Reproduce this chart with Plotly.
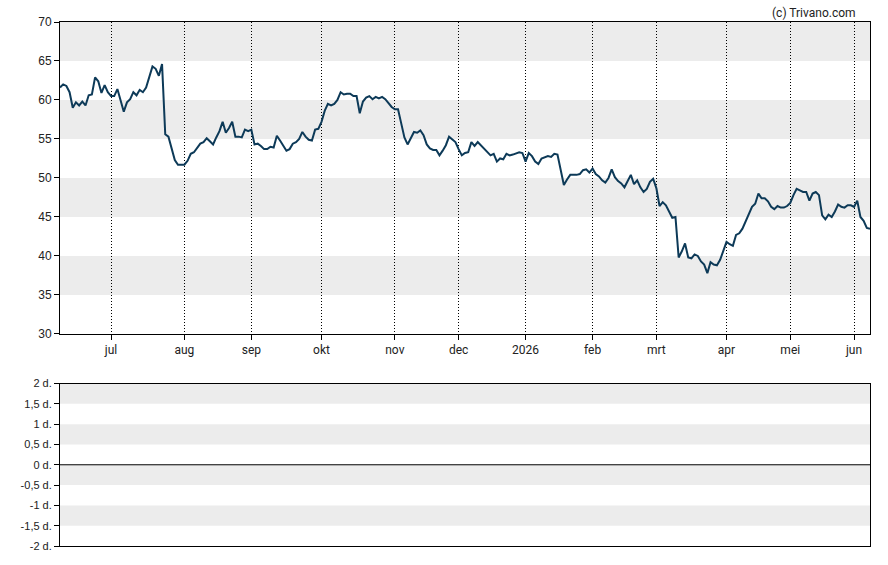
import pandas as pd
import plotly.graph_objects as go

# Daily closing prices per month (trading days)
jun25 = [61.6, 62.0, 61.8, 61.0, 59.0, 59.7, 59.3, 59.8, 59.3, 60.6, 60.7, 62.9, 62.4, 60.9, 61.9, 61.0]
jul25 = [60.5, 60.5, 61.4, 60.0, 58.5, 59.7, 60.1, 61.0, 60.6, 61.3, 61.0, 61.6, 62.9, 64.3, 64.0, 63.1,
         64.6, 55.6, 55.3, 53.8, 52.3, 51.7, 51.7]
aug25 = [51.7, 52.2, 53.1, 53.3, 53.8, 54.4, 54.6, 55.1, 54.7, 54.3, 55.2, 56.0, 57.2, 55.8, 56.4, 57.2,
         55.3, 55.3, 55.2, 56.2, 56.0]
sep25 = [56.2, 54.3, 54.4, 54.1, 53.7, 53.7, 54.0, 53.9, 55.4, 54.8, 54.1, 53.5, 53.7, 54.4, 54.6, 55.0,
         55.9, 55.3, 54.9, 54.8, 56.2, 56.3]
okt25 = [57.2, 58.6, 59.5, 59.3, 59.5, 60.0, 61.0, 60.7, 60.8, 60.8, 60.5, 60.5, 58.3, 59.8, 60.3, 60.5,
         60.1, 60.4, 60.2, 60.4, 60.1, 59.6, 59.1]
nov25 = [58.8, 58.8, 57.0, 55.2, 54.3, 55.2, 55.9, 55.8, 56.1, 55.5, 54.3, 53.8, 53.6, 53.6, 52.9, 53.5,
         54.2, 55.3, 55.0, 54.6]
dec25 = [53.7, 52.9, 53.2, 53.3, 54.6, 54.1, 54.6, 54.2, 53.8, 53.4, 52.9, 53.1, 52.1, 52.5, 52.4, 53.1,
         52.9, 53.0, 53.2, 53.3, 53.2]
jan26 = [52.1, 53.2, 52.8, 52.1, 51.8, 52.5, 52.7, 52.8, 52.7, 53.1, 53.0, 50.8, 49.1, 49.8, 50.4, 50.4,
         50.4, 50.5, 51.0, 51.1, 50.7]
feb26 = [51.2, 50.5, 50.2, 49.7, 49.4, 50.0, 51.1, 50.1, 49.6, 49.3, 48.8, 49.7, 50.4, 49.2, 49.7, 48.8,
         48.2, 48.6, 49.5, 49.9]
mrt26 = [48.7, 46.4, 46.9, 46.5, 45.7, 44.9, 45.0, 39.8, 40.6, 41.6, 39.8, 39.7, 40.2, 40.0, 39.3, 38.9,
         37.8, 39.2, 38.9, 38.8, 39.5, 40.6]
apr26 = [41.8, 41.5, 41.3, 42.7, 42.9, 43.5, 44.4, 45.4, 46.3, 46.7, 48.0, 47.4, 47.4, 47.0, 46.3, 46.0,
         46.4, 46.2, 46.2, 46.4]
mei26 = [46.8, 47.8, 48.6, 48.4, 48.2, 48.2, 47.1, 48.0, 48.2, 47.8, 45.2, 44.7, 45.3, 45.0, 45.7, 46.6,
         46.3, 46.2, 46.5, 46.5]
jun26 = [46.3, 47.1, 45.0, 44.5, 43.6, 43.5]

month_values = [jun25, jul25, aug25, sep25, okt25, nov25, dec25, jan26, feb26, mrt26, apr26, mei26, jun26]
month_labels = ["jul", "aug", "sep", "okt", "nov", "dec", "2026", "feb", "mrt", "apr", "mei", "jun"]

holidays = ["2025-12-25", "2025-12-26", "2026-01-01", "2026-04-03", "2026-04-06", "2026-05-01"]
dates = pd.bdate_range("2025-06-09", "2026-06-08")
dates = dates[~dates.isin(pd.to_datetime(holidays))]

prices = [v for m in month_values for v in m]
n = min(len(prices), len(dates))
prices = prices[:n]
dates = dates[:n]
idx = list(range(n))

# month-start tick positions (trading-day index)
tickvals = []
prev = None
for i, d in enumerate(dates):
    key = (d.year, d.month)
    if prev is not None and key != prev:
        tickvals.append(i)
    prev = key
tickvals = tickvals[:len(month_labels)]

main_bands = [(65, 70), (55, 60), (45, 50), (35, 40)]
sub_bands = [(1.5, 2), (0.5, 1), (-0.5, 0), (-1.5, -1)]
sub_ticks = [2, 1.5, 1, 0.5, 0, -0.5, -1, -1.5, -2]
sub_labels = ["2 d.", "1,5 d.", "1 d.", "0,5 d.", "0 d.", "-0,5 d.", "-1 d.", "-1,5 d.", "-2 d."]

fig = go.Figure()
fig.add_trace(go.Scatter(x=idx, y=prices, mode="lines",
                         line=dict(color="#0d3a58", width=2), hoverinfo="skip",
                         xaxis="x", yaxis="y"))
fig.add_trace(go.Scatter(x=[0, n - 1], y=[None, None], mode="lines",
                         xaxis="x2", yaxis="y2", hoverinfo="skip"))

shapes = []
for lo, hi in main_bands:
    shapes.append(dict(type="rect", xref="x domain", yref="y", x0=0, x1=1, y0=lo, y1=hi,
                       fillcolor="#ececec", line=dict(width=0), layer="below"))
for lo, hi in sub_bands:
    shapes.append(dict(type="rect", xref="x2 domain", yref="y2", x0=0, x1=1, y0=lo, y1=hi,
                       fillcolor="#ececec", line=dict(width=0), layer="below"))
shapes.append(dict(type="line", xref="x2 domain", yref="y2", x0=0, x1=1, y0=0, y1=0,
                   line=dict(color="black", width=1)))

fig.update_layout(
    width=888, height=565,
    margin=dict(l=60, r=18, t=22, b=13),
    paper_bgcolor="white", plot_bgcolor="white",
    showlegend=False,
    shapes=shapes,
    font=dict(family="Roboto", size=12, color="#222"),
    xaxis=dict(domain=[0, 1], range=[0, n - 1], anchor="y",
               tickvals=tickvals, ticktext=month_labels,
               showgrid=True, griddash="1px,2px", gridcolor="black", gridwidth=1,
               ticks="outside", ticklen=5, tickcolor="black",
               showline=True, linecolor="black", linewidth=1, mirror=True,
               zeroline=False, tickfont=dict(family="Roboto", size=12, color="#222")),
    yaxis=dict(domain=[0.4047, 1.0], range=[30, 70], dtick=5, anchor="x",
               showgrid=False, zeroline=False,
               ticks="outside", ticklen=5, tickcolor="black",
               showline=True, linecolor="black", linewidth=1, mirror=True,
               tickfont=dict(family="Liberation Sans", size=12, color="#222")),
    xaxis2=dict(domain=[0, 1], range=[0, n - 1], anchor="y2",
                showticklabels=False, showgrid=False, zeroline=False, ticks="",
                showline=True, linecolor="black", linewidth=1, mirror=True),
    yaxis2=dict(domain=[0, 0.31], range=[-2, 2], anchor="x2",
                tickvals=sub_ticks, ticktext=sub_labels,
                showgrid=False, zeroline=False,
                ticks="outside", ticklen=5, tickcolor="black",
                showline=True, linecolor="black", linewidth=1, mirror=True,
                tickfont=dict(family="Liberation Sans", size=11, color="#222")),
    annotations=[dict(text="(c) Trivano.com", xref="paper", yref="paper",
                      x=0.985, y=1.0, xanchor="right", yanchor="bottom", yshift=0,
                      showarrow=False, font=dict(family="Roboto", size=12, color="#222"))],
)

fig.write_html("out.html")
